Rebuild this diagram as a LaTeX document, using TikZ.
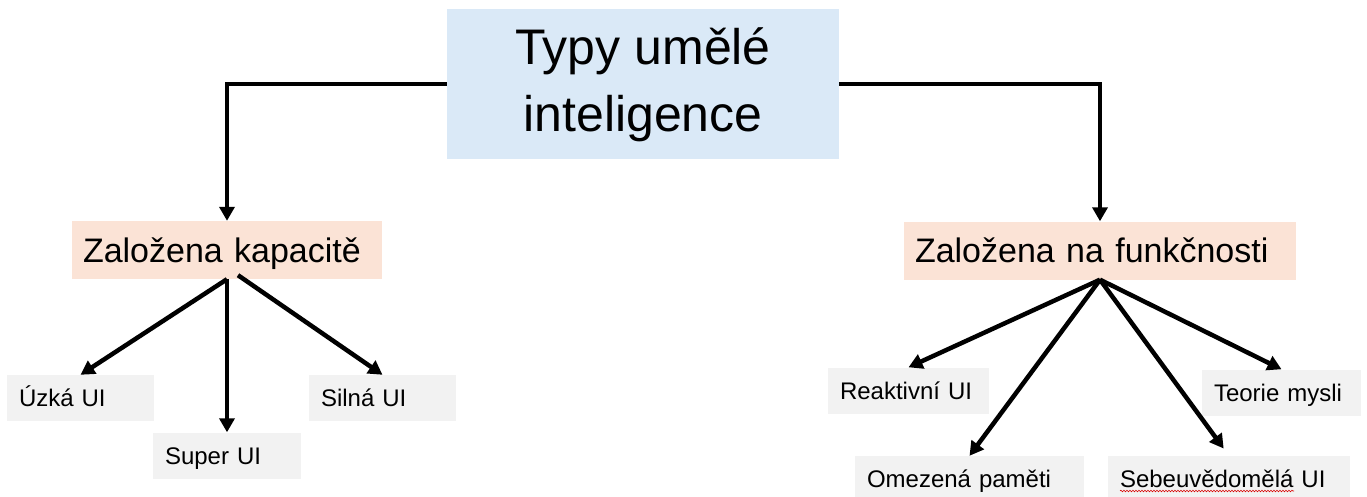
\documentclass[tikz,border=0pt]{standalone}
\usepackage{fontspec}
\setmainfont{Liberation Sans}
\usetikzlibrary{arrows.meta,decorations.pathmorphing}

\definecolor{titlefill}{HTML}{DAE9F7}
\definecolor{groupfill}{HTML}{FBE3D6}
\definecolor{leaffill}{HTML}{F2F2F2}

\tikzset{
  titlebox/.style={fill=titlefill, draw=none, minimum width=392pt, minimum height=150pt,
    inner sep=0pt, align=center, font=\fontsize{50}{67}\selectfont,
    text height=103pt, text depth=7pt},
  groupbox/.style={fill=groupfill, draw=none, minimum height=58pt, inner ysep=0pt,
    inner xsep=11pt, align=left, font=\fontsize{34}{40}\selectfont,
    text height=24pt, text depth=0pt},
  leafbox/.style={fill=leaffill, draw=none, minimum height=46pt, inner ysep=0pt,
    inner xsep=12pt, align=left, font=\fontsize{24}{29}\selectfont,
    text height=17pt, text depth=0pt},
  conn/.style={line width=4.5pt, -{Triangle[length=14pt,width=15pt]}},
}

\begin{document}
\begin{tikzpicture}[x=1pt,y=-1pt]
  \useasboundingbox (0,0) rectangle (1367,497);

  % root
  \node[titlebox] (root) at (643,84) {Typy umělé\\inteligence};

  % two classification groups
  \node[groupbox, text width=288pt] (kap) at (227,250) {Založena kapacitě};
  \node[groupbox, text width=370pt] (fun) at (1100,250.5) {Založena na funkčnosti};

  % capacity-based types
  \node[leafbox, text width=123pt] (uzka)  at (80.5,398)  {Úzká UI};
  \node[leafbox, text width=124pt] (super) at (227,455.5) {Super UI};
  \node[leafbox, text width=123pt] (silna) at (382.5,398) {Silná UI};

  % functionality-based types
  \node[leafbox, text width=137pt] (reakt)  at (908.5,390.5) {Reaktivní UI};
  \node[leafbox, text width=135pt] (teorie) at (1281.5,392.5) {Teorie mysli};
  \node[leafbox, text width=205pt] (omez)   at (969.5,479)   {Omezená paměti};
  \node[leafbox, text width=218pt] (sebe)   at (1229,479)    {Sebeuvědomělá UI};

  % spell-check underline
  \draw[red!85!black, line width=0.6pt, decorate,
        decoration={snake, amplitude=0.8pt, segment length=3pt}]
    (1120,491) -- (1294,491);

  % connectors from the root
  \draw[conn] (root.west) -| (kap.north);
  \draw[conn] (root.east) -| (fun.north);

  % capacity branch
  \draw[conn] (kap.south) -- (uzka.north);
  \draw[conn] (kap.south) -- (super.north);
  \draw[conn] ([xshift=11pt,yshift=4pt]kap.south) -- (silna.north);

  % functionality branch
  \draw[conn] (fun.south) -- (reakt.north);
  \draw[conn] (fun.south) -- (omez.north);
  \draw[conn, shorten >=9pt] (fun.south) -- (sebe.north);
  \draw[conn] (fun.south) -- (teorie.north);
\end{tikzpicture}
\end{document}
